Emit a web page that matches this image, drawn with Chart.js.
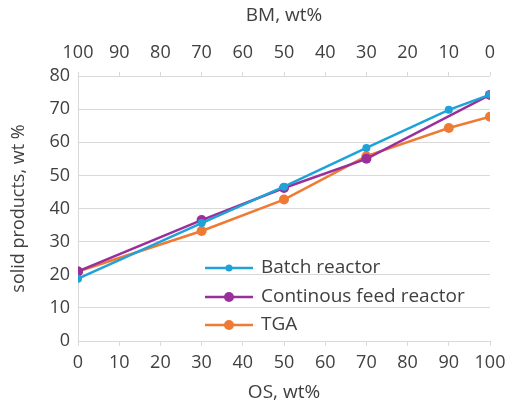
<!DOCTYPE html>
<html>
<head>
<meta charset="utf-8">
<script src="https://cdn.jsdelivr.net/npm/chart.js@4"></script>
<style>
    html, body { margin: 0; padding: 0; background: #fff; }
    #wrap { width: 508px; height: 405px; }
</style>
</head>
<body>
<div id="wrap"><canvas id="chart" width="508" height="405"></canvas></div>
<script>
const seriesNames = ['Batch reactor', 'Continous feed reactor', 'TGA'];
const batchX = [0, 30, 50, 70, 90, 100];
const batchY = [18.8, 35.6, 46.6, 58.3, 69.8, 74.4];
const cfrX = [0, 30, 50, 70, 100];
const cfrY = [21.0, 36.5, 46.2, 55.0, 74.3];
const tgaX = [0, 30, 50, 70, 90, 100];
const tgaY = [21.0, 33.2, 42.7, 55.8, 64.3, 67.7];
const colors = ['#1ea3d9', '#9a2f9c', '#ee7a33'];

const font = "'Open Sans', sans-serif";
const textColor = '#404040';

const toPoints = (xs, ys) => xs.map((x, i) => ({ x, y: ys[i] }));

// legend drawn inside the plot area, Excel style
const insideLegend = {
    id: 'insideLegend',
    afterDraw(chart) {
        const { ctx, chartArea } = chart;
        const x0 = chartArea.left + 127;
        const rows = [chartArea.top + 192, chartArea.top + 221, chartArea.top + 249];
        ctx.save();
        ctx.font = '19px ' + font;
        ctx.textBaseline = 'middle';
        seriesNames.forEach((name, i) => {
            const y = rows[i];
            ctx.strokeStyle = colors[i];
            ctx.lineWidth = 2.5;
            ctx.beginPath();
            ctx.moveTo(x0, y);
            ctx.lineTo(x0 + 48, y);
            ctx.stroke();
            ctx.fillStyle = colors[i];
            ctx.beginPath();
            ctx.arc(x0 + 24, y, i === 0 ? 3.5 : 5, 0, Math.PI * 2);
            ctx.fill();
            ctx.fillStyle = textColor;
            ctx.fillText(name, x0 + 56, y);
        });
        ctx.restore();
    },
};

const ds = (i, xs, ys) => ({
    label: seriesNames[i],
    data: toPoints(xs, ys),
    borderColor: colors[i],
    backgroundColor: colors[i],
    borderWidth: 2.5,
    pointRadius: i === 0 ? 4 : 5,
    pointStyle: 'circle',
    pointBorderWidth: 0,
    tension: 0,
});

// fixed axis boxes so the plot area lands where the reference has it
const fitX = (height) => (s) => { s.height = height; s.paddingLeft = 0; s.paddingRight = 0; };

new Chart(document.getElementById('chart'), {
    type: 'line',
    data: {
        datasets: [ds(0, batchX, batchY), ds(1, cfrX, cfrY), ds(2, tgaX, tgaY)],
    },
    options: {
        responsive: false,
        animation: false,
        layout: { padding: { left: 0, right: 18, top: 0, bottom: 0 } },
        plugins: {
            legend: { display: false },
            tooltip: { enabled: false },
        },
        scales: {
            x: {
                type: 'linear',
                position: 'bottom',
                min: 0,
                max: 100,
                afterFit: fitX(64),
                ticks: { stepSize: 10, color: textColor, font: { family: font, size: 18 }, padding: 6 },
                grid: { display: true, drawOnChartArea: false, tickLength: 5, color: '#d9d9d9' },
                border: { display: true, color: '#d9d9d9', width: 1 },
                title: { display: true, text: 'OS, wt%', color: textColor, font: { family: font, size: 19 }, padding: { top: 0, bottom: 1 } },
            },
            x2: {
                type: 'linear',
                position: 'top',
                min: 0,
                max: 100,
                reverse: true,
                afterFit: fitX(76),
                ticks: { stepSize: 10, color: textColor, font: { family: font, size: 18 }, padding: 8 },
                grid: { display: true, drawOnChartArea: false, tickLength: 4, color: '#d9d9d9' },
                border: { display: false },
                title: { display: true, text: 'BM, wt%', color: textColor, font: { family: font, size: 19 }, padding: { top: 4, bottom: 4 } },
            },
            y: {
                min: 0,
                max: 80,
                afterFit: (s) => { s.width = 78; },
                ticks: { stepSize: 10, color: textColor, font: { family: font, size: 18 }, padding: 8 },
                grid: { color: '#d9d9d9', drawTicks: false },
                border: { display: true, color: '#d9d9d9' },
                title: { display: true, text: 'solid products, wt %', color: textColor, font: { family: font, size: 18 }, padding: { top: 8, bottom: 2 } },
            },
        },
    },
    plugins: [insideLegend],
});
</script>
</body>
</html>
